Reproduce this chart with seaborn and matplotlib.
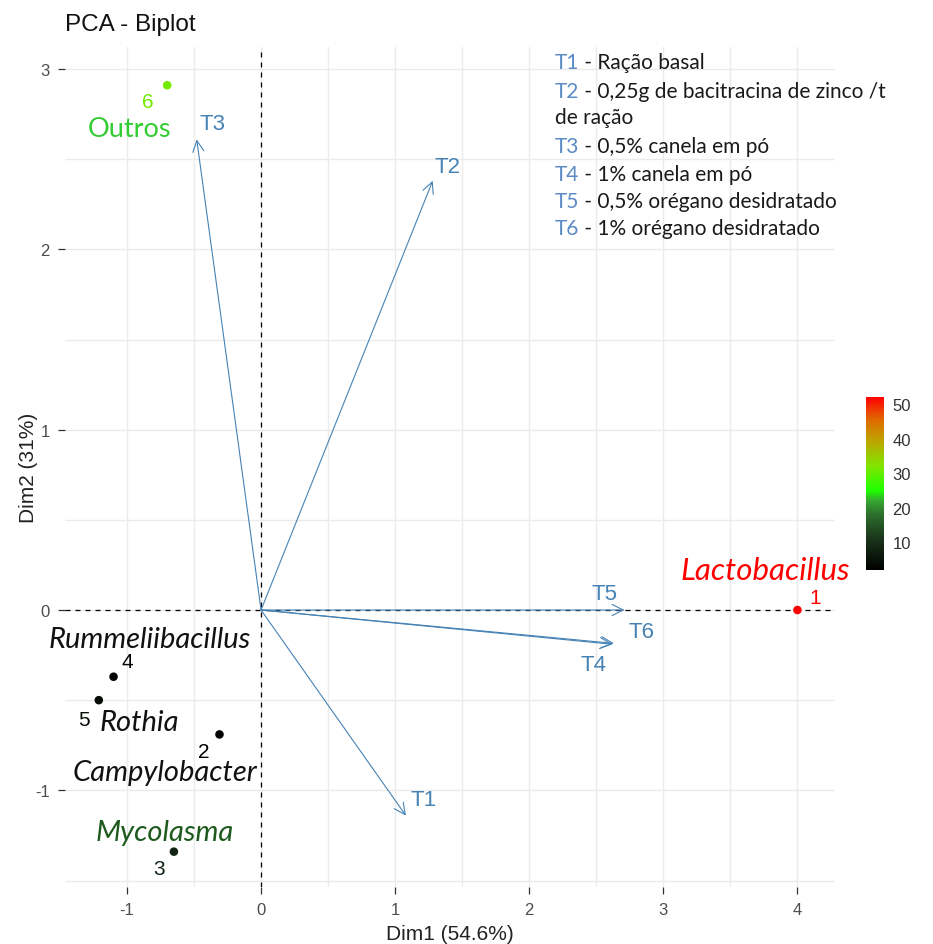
import numpy as np
import pandas as pd
import matplotlib
matplotlib.use("Agg")
import matplotlib.pyplot as plt
import seaborn as sns
from matplotlib.colors import LinearSegmentedColormap, Normalize
from matplotlib.cm import ScalarMappable
from matplotlib.ticker import MultipleLocator

# individuals (genera)
genus = ["Lactobacillus", "Campylobacter", "Mycolasma", "Rummeliibacillus", "Rothia", "Outros"]
point_id = ["1", "2", "3", "4", "5", "6"]
dim1 = [4.00, -0.31, -0.65, -1.10, -1.21, -0.70]
dim2 = [0.00, -0.69, -1.34, -0.37, -0.50, 2.91]
abundance = [52, 2, 8, 3, 4, 31]

# variables (treatments)
treat = ["T1", "T2", "T3", "T4", "T5", "T6"]
load1 = [1.08, 1.28, -0.48, 2.62, 2.71, 2.63]
load2 = [-1.14, 2.38, 2.61, -0.19, 0.00, -0.185]

legend_codes = ["T1", "T2", "", "T3", "T4", "T5", "T6"]
legend_desc = [
    " - Ração basal",
    " - 0,25g de bacitracina de zinco /t",
    "de ração",
    " - 0,5% canela em pó",
    " - 1% canela em pó",
    " - 0,5% orégano desidratado",
    " - 1% orégano desidratado",
]

cbar_ticks = [10, 20, 30, 40, 50]

# label placement (not data)
num_offsets = [(13, 9), (-11, -12), (-11, -12), (10, 11), (-11, -14), (-14, -12)]
genus_label_xy = [(3.76, 0.22), (-0.72, -0.90), (-0.72, -1.23), (-0.83, -0.16), (-0.91, -0.62), (-0.98, 2.67)]
genus_colors = ["#FF0000", "#111111", "#1E5A1E", "#111111", "#111111", "#33CC33"]
genus_sizes = [22.5, 21, 21, 21, 21, 19.5]
treat_label_xy = [(1.21, -1.05), (1.39, 2.46), (-0.36, 2.70), (2.48, -0.30), (2.56, 0.09), (2.84, -0.12)]

ARROW_COL = "#4682B4"
GRID_COL = "#EBEBEB"

cmap = LinearSegmentedColormap.from_list(
    "abund",
    [
        (0.00, "#000000"),
        (0.18, "#1A351B"),
        (0.32, "#2C6E2C"),
        (0.40, "#35A830"),
        (0.46, "#1EFF00"),
        (0.60, "#80E600"),
        (0.74, "#BBA800"),
        (0.87, "#E06A00"),
        (1.00, "#FF0000"),
    ],
)
norm = Normalize(vmin=min(abundance), vmax=max(abundance))

sns.set_theme(style="whitegrid")
plt.rcParams["font.family"] = ["Liberation Sans", "DejaVu Sans"]
plt.rcParams["axes.unicode_minus"] = False

df = pd.DataFrame({"dim1": dim1, "dim2": dim2, "abund": abundance})

fig = plt.figure(figsize=(9.33, 9.45), dpi=100)
ax = fig.add_axes([65 / 933, 1 - 888 / 945, 770 / 933, 840 / 945])

ax.set_xlim(-1.462, 4.28)
ax.set_ylim(-1.536, 3.122)
ax.xaxis.set_major_locator(MultipleLocator(1))
ax.yaxis.set_major_locator(MultipleLocator(1))
ax.xaxis.set_minor_locator(MultipleLocator(0.5))
ax.yaxis.set_minor_locator(MultipleLocator(0.5))
ax.grid(which="both", color=GRID_COL, lw=1.0)
ax.set_axisbelow(True)
for sp in ax.spines.values():
    sp.set_visible(False)

ax.axhline(0, color="black", lw=0.9, ls=(0, (4, 4)), zorder=2)
ax.axvline(0, color="black", lw=0.9, ls=(0, (4, 4)), zorder=2)

# treatment arrows
for name, x, y, (lx, ly) in zip(treat, load1, load2, treat_label_xy):
    ax.annotate(
        "", xy=(x, y), xytext=(0, 0),
        arrowprops=dict(arrowstyle="->,head_length=0.4,head_width=0.2",
                        color=ARROW_COL, lw=0.8, shrinkA=0, shrinkB=0,
                        mutation_scale=20),
        zorder=3,
    )
    ax.text(lx, ly, name, color=ARROW_COL, fontsize=16, ha="center", va="center", zorder=4)

sns.scatterplot(data=df, x="dim1", y="dim2", hue="abund", palette=cmap,
                hue_norm=norm, s=38, edgecolor="none", legend=False, ax=ax, zorder=5)

for pid, x, y, v, (dx, dy) in zip(point_id, dim1, dim2, abundance, num_offsets):
    ax.annotate(pid, xy=(x, y), xytext=(dx, dy), textcoords="offset points",
                color=cmap(norm(v)), fontsize=15, ha="center", va="center")

for name, (lx, ly), col, size in zip(genus, genus_label_xy, genus_colors, genus_sizes):
    style = "normal" if name == "Outros" else "italic"
    ax.text(lx, ly, name, color=col, fontsize=size, style=style,
            family=["Lato", "DejaVu Sans"], ha="center", va="center")

ax.tick_params(axis="both", which="major", bottom=True, left=True, length=5,
               width=0.9, color="#333333", labelcolor="#4D4D4D", labelsize=12, pad=6)
ax.tick_params(axis="both", which="minor", length=0)
ax.set_xlabel("Dim1 (54.6%)", fontsize=15, color="#222222", labelpad=5)
ax.set_ylabel("Dim2 (31%)", fontsize=15, color="#222222", labelpad=-2)
ax.set_title("PCA - Biplot", loc="left", fontsize=17.5, color="#111111", pad=12)

# colour bar
cax = fig.add_axes([866 / 933, 1 - 571 / 945, 18 / 933, 173 / 945])
cb = fig.colorbar(ScalarMappable(norm=norm, cmap=cmap), cax=cax, ticks=cbar_ticks)
cb.outline.set_visible(False)
cax.tick_params(direction="in", length=4, width=1, color="white", left=True, right=True,
                labelleft=False, labelright=True, labelcolor="#333333", labelsize=12, pad=6)
cax.grid(False)

# treatment legend text
renderer = fig.canvas.get_renderer()
y_px = [63, 92, 118, 147, 175, 202, 229]
for code, desc, yp in zip(legend_codes, legend_desc, y_px):
    yf = 1 - yp / 945
    x_next = 555 / 933
    if code:
        t = fig.text(x_next, yf, code, color="#5B8BC5", fontsize=15,
                     family=["Lato", "DejaVu Sans"], va="center", ha="left")
        bb = t.get_window_extent(renderer)
        x_next = bb.x1 / fig.bbox.width
    fig.text(x_next, yf, desc, color="#1A1A1A", fontsize=15,
             family=["Lato", "DejaVu Sans"], va="center", ha="left")

fig.savefig("out.png", dpi=100)
